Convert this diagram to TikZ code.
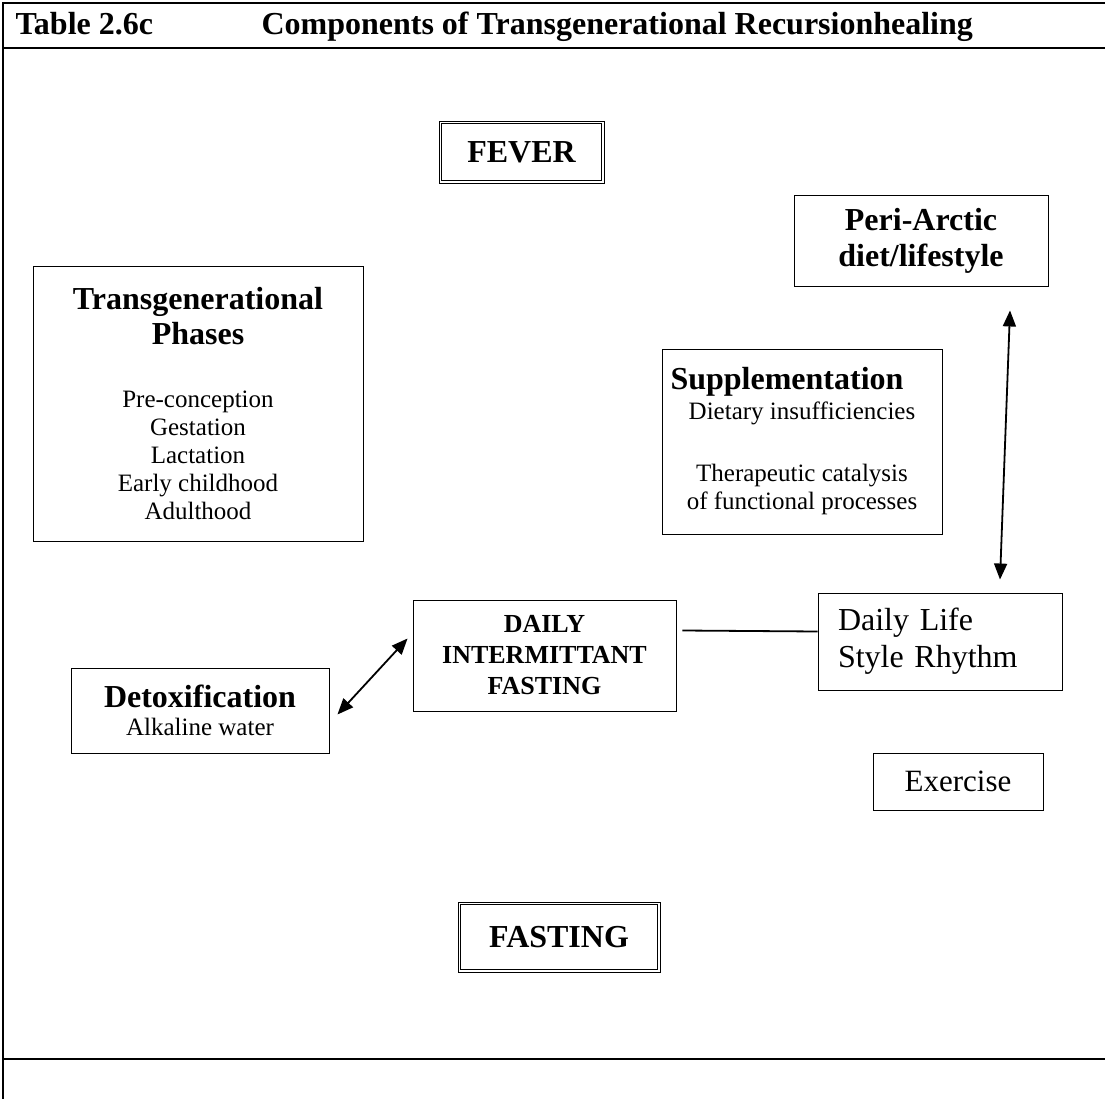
\documentclass[tikz,border=0pt]{standalone}
\usepackage{fontspec}
\setmainfont{Liberation Serif}
\usetikzlibrary{arrows.meta}

\begin{document}
\begin{tikzpicture}[
    x=1pt, y=-1pt, >={Triangle[length=16pt, width=13pt]},
    box/.style={draw, line width=0.9pt, inner sep=0pt, align=center},
    big/.style={font=\fontsize{32}{36}\selectfont\bfseries},
    small/.style={font=\fontsize{25}{28}\selectfont},
    inner/.style={line width=0.8pt},
    link/.style={line width=1.8pt}
]
    \useasboundingbox (0,0) rectangle (1105,1099);

    % Frame of the table
    \draw[line width=1.8pt] (3,1099) -- (3,3) -- (1105,3);
    \draw[line width=1.8pt] (3,48) -- (1105,48);
    \draw[line width=1.8pt] (3,1059) -- (1105,1059);

    % Title row
    \node[big, anchor=base west] (tnum) at (12,35) {Table 2.6c};
    \node[big, anchor=base west] (ttitle) at (258,35) {Components of Transgenerational Recursionhealing};

    % Top and bottom headings (double frame)
    \node[box, big, minimum width=165pt, minimum height=62pt] (fever) at (521.5,152) {FEVER};
    \draw[inner] ([shift={(3pt,-3pt)}]fever.north west) rectangle ([shift={(-3pt,3pt)}]fever.south east);
    \node[box, big, minimum width=202pt, minimum height=70pt] (fast) at (559,937) {FASTING};
    \draw[inner] ([shift={(3pt,-3pt)}]fast.north west) rectangle ([shift={(-3pt,3pt)}]fast.south east);

    % Left column
    \node[box, small, minimum width=330pt, minimum height=275pt] (phases) at (198,403.5) {%
        \fontsize{32}{34}\selectfont\bfseries Transgenerational\\[5pt]
        \fontsize{32}{34}\selectfont\bfseries Phases\\[35pt]
        Pre-conception\\Gestation\\Lactation\\Early childhood\\Adulthood};
    \node[box, small, minimum width=258pt, minimum height=85pt] (detox) at (200,710.5) {%
        \fontsize{32}{34}\selectfont\bfseries Detoxification\\
        Alkaline water};

    % Middle
    \node[box, font=\fontsize{26}{31}\selectfont\bfseries, minimum width=263pt, minimum height=111pt] (dif) at (544.5,655.5) {DAILY\\INTERMITTANT\\FASTING};
    \node[box, small, minimum width=280pt, minimum height=185pt] (supp) at (802,441.5) {%
        \fontsize{32}{34}\selectfont\bfseries Supplementation\hspace*{30pt}\\[2pt]
        Dietary insufficiencies\\[34pt]
        Therapeutic catalysis\\of functional processes};

    % Right column
    \node[box, big, minimum width=254pt, minimum height=91pt] (peri) at (921,240.5) {Peri-Arctic\\diet/lifestyle};
    \node[box, font=\fontsize{32}{37}\selectfont, align=left, text width=204pt, inner xsep=20pt, minimum height=97pt] (life) at (940,641.5) {Daily Life\\Style Rhythm};
    \node[box, font=\fontsize{31}{34}\selectfont, minimum width=170pt, minimum height=57pt] (exer) at (958,781.5) {Exercise};

    % Connections
    \draw[link, <->] ([xshift=8pt, yshift=-4pt]detox.east) -- ([xshift=-5pt, yshift=17pt]dif.west);
    \draw[link] ([xshift=6pt, yshift=25pt]dif.east) -- ([yshift=10pt]life.west);
    \draw[link, <->] ([xshift=89pt, yshift=-24pt]peri.south) -- ([xshift=60pt, yshift=13pt]life.north);

\end{tikzpicture}
\end{document}
